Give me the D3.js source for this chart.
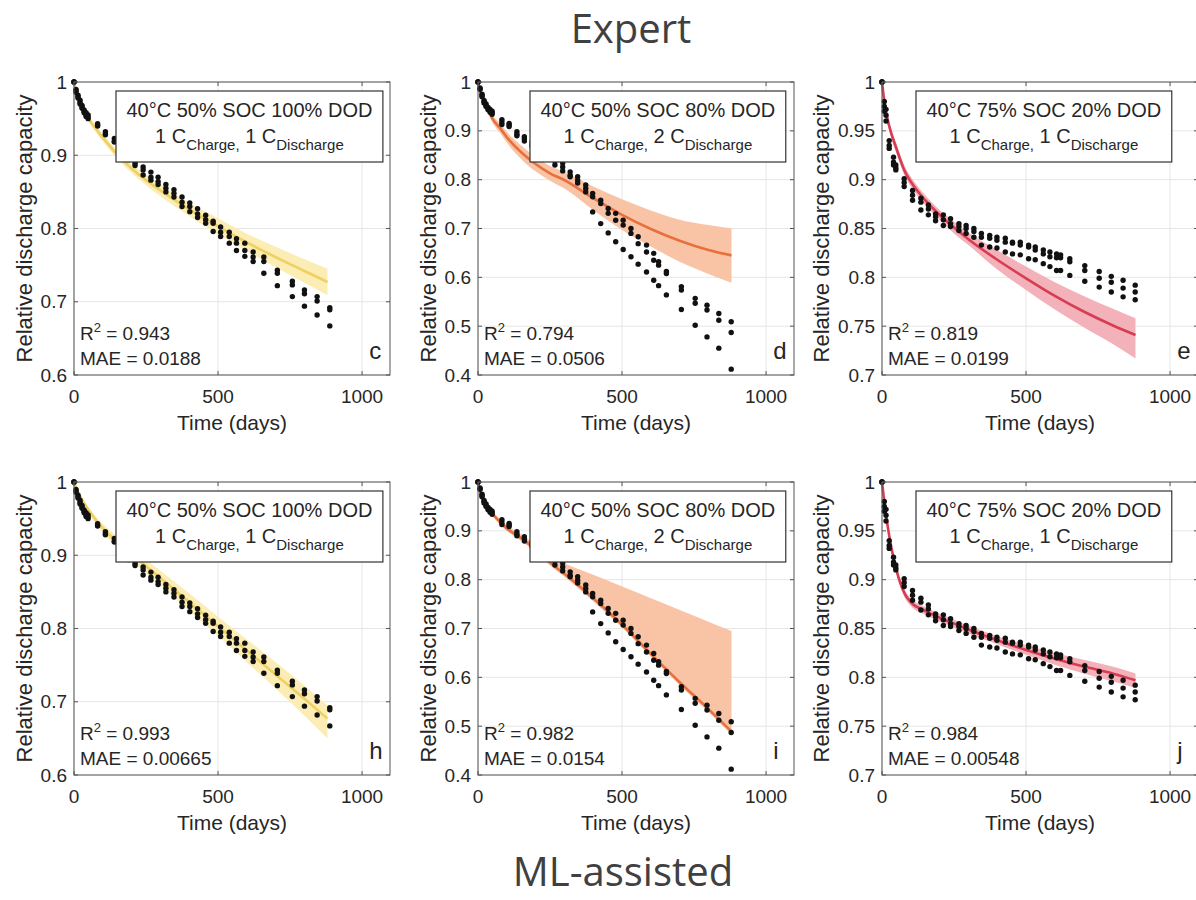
<!DOCTYPE html>
<html>
<head>
<meta charset="utf-8">
<script src="https://cdn.jsdelivr.net/npm/d3@7"></script>
<style>
  body { margin: 0; background: #fff; }
  svg { display: block; }
</style>
</head>
<body>
<div id="chart"></div>
<script>
// ---- measured cells (three cells per test condition) ----
const daysA = [0, 7, 14, 21, 28, 35, 42, 49, 82, 109, 140, 165, 190, 212, 240, 267, 292, 319, 347, 375, 402, 429, 457, 483, 509, 539, 564, 593, 622, 659, 706, 758, 800, 844, 888];
const cellA1 = [1, 0.990, 0.982, 0.975, 0.968, 0.962, 0.958, 0.955, 0.943, 0.932, 0.923, 0.912, 0.902, 0.892, 0.884, 0.877, 0.870, 0.860, 0.853, 0.843, 0.835, 0.827, 0.818, 0.810, 0.802, 0.795, 0.786, 0.780, 0.768, 0.761, 0.743, 0.728, 0.716, 0.707, 0.692];
const cellA2 = [1, 0.988, 0.980, 0.972, 0.966, 0.960, 0.955, 0.952, 0.941, 0.929, 0.919, 0.908, 0.898, 0.889, 0.880, 0.870, 0.864, 0.855, 0.848, 0.836, 0.830, 0.820, 0.812, 0.807, 0.795, 0.789, 0.780, 0.770, 0.761, 0.755, 0.739, 0.723, 0.711, 0.701, 0.689];
const cellA3 = [1, 0.986, 0.978, 0.970, 0.964, 0.958, 0.953, 0.950, 0.940, 0.928, 0.918, 0.905, 0.894, 0.886, 0.873, 0.866, 0.860, 0.850, 0.843, 0.830, 0.823, 0.815, 0.807, 0.796, 0.789, 0.780, 0.770, 0.762, 0.755, 0.739, 0.722, 0.707, 0.694, 0.682, 0.667];

const daysB = [0, 7, 14, 21, 28, 35, 42, 49, 83, 108, 135, 161, 188, 214, 240, 267, 294, 320, 346, 374, 398, 426, 452, 478, 504, 531, 556, 585, 610, 627, 654, 706, 754, 795, 836, 879];
const cellB1 = [1, 0.988, 0.975, 0.962, 0.955, 0.948, 0.944, 0.940, 0.923, 0.915, 0.898, 0.888, 0.877, 0.866, 0.855, 0.845, 0.834, 0.816, 0.806, 0.789, 0.772, 0.758, 0.741, 0.731, 0.717, 0.700, 0.683, 0.666, 0.649, 0.632, 0.612, 0.581, 0.557, 0.543, 0.526, 0.509];
const cellB2 = [1, 0.986, 0.972, 0.960, 0.952, 0.945, 0.941, 0.937, 0.918, 0.912, 0.893, 0.884, 0.872, 0.861, 0.849, 0.838, 0.826, 0.809, 0.799, 0.782, 0.765, 0.751, 0.731, 0.717, 0.707, 0.690, 0.669, 0.652, 0.635, 0.625, 0.608, 0.574, 0.547, 0.533, 0.512, 0.487];
const cellB3 = [1, 0.985, 0.970, 0.957, 0.950, 0.943, 0.938, 0.934, 0.913, 0.909, 0.890, 0.879, 0.868, 0.856, 0.843, 0.830, 0.818, 0.806, 0.793, 0.775, 0.734, 0.710, 0.691, 0.673, 0.657, 0.642, 0.627, 0.611, 0.594, 0.583, 0.564, 0.534, 0.502, 0.478, 0.455, 0.412];

const daysC = [0, 8, 14, 25, 40, 48, 77, 106, 135, 161, 186, 213, 238, 267, 292, 319, 345, 374, 399, 428, 453, 480, 509, 532, 560, 583, 606, 620, 652, 704, 754, 796, 837, 879];
const cellC1 = [1, 0.980, 0.972, 0.940, 0.923, 0.915, 0.901, 0.889, 0.881, 0.874, 0.865, 0.864, 0.860, 0.855, 0.853, 0.850, 0.845, 0.843, 0.841, 0.840, 0.836, 0.836, 0.833, 0.831, 0.828, 0.826, 0.824, 0.823, 0.819, 0.812, 0.806, 0.801, 0.797, 0.792];
const cellC2 = [1, 0.975, 0.966, 0.935, 0.918, 0.912, 0.897, 0.884, 0.877, 0.870, 0.862, 0.859, 0.855, 0.852, 0.850, 0.847, 0.841, 0.840, 0.838, 0.836, 0.835, 0.833, 0.831, 0.828, 0.824, 0.821, 0.820, 0.820, 0.816, 0.807, 0.799, 0.795, 0.789, 0.785];
const cellC3 = [1, 0.970, 0.960, 0.932, 0.915, 0.910, 0.893, 0.879, 0.869, 0.864, 0.858, 0.853, 0.852, 0.848, 0.845, 0.841, 0.833, 0.831, 0.830, 0.826, 0.824, 0.823, 0.819, 0.818, 0.814, 0.811, 0.807, 0.807, 0.802, 0.796, 0.790, 0.785, 0.780, 0.777];

// ---- model predictions (mean and band) ----
const fitDays = [0, 10, 25, 50, 80, 100, 150, 200, 250, 300, 400, 500, 600, 700, 800, 880];

const fitC = [1, 0.982, 0.968, 0.950, 0.934, 0.924, 0.901, 0.882, 0.866, 0.852, 0.826, 0.803, 0.781, 0.761, 0.742, 0.727];
const loC  = [1, 0.980, 0.965, 0.946, 0.929, 0.919, 0.895, 0.876, 0.859, 0.844, 0.817, 0.792, 0.769, 0.747, 0.726, 0.709];
const hiC  = [1, 0.984, 0.971, 0.954, 0.939, 0.929, 0.907, 0.888, 0.873, 0.860, 0.835, 0.814, 0.793, 0.775, 0.758, 0.745];

const fitD = [1, 0.975, 0.958, 0.925, 0.903, 0.887, 0.856, 0.832, 0.813, 0.799, 0.762, 0.728, 0.699, 0.675, 0.656, 0.645];
const loD  = [1, 0.972, 0.952, 0.917, 0.893, 0.876, 0.842, 0.817, 0.798, 0.782, 0.738, 0.697, 0.663, 0.632, 0.607, 0.589];
const hiD  = [1, 0.978, 0.964, 0.933, 0.913, 0.898, 0.870, 0.847, 0.828, 0.816, 0.786, 0.760, 0.737, 0.718, 0.707, 0.700];

const fitE = [1, 0.976, 0.955, 0.932, 0.908, 0.898, 0.879, 0.864, 0.851, 0.839, 0.818, 0.799, 0.781, 0.765, 0.751, 0.741];
const loE  = [1, 0.972, 0.950, 0.927, 0.903, 0.893, 0.874, 0.859, 0.845, 0.833, 0.808, 0.787, 0.767, 0.749, 0.732, 0.717];
const hiE  = [1, 0.980, 0.960, 0.937, 0.913, 0.903, 0.884, 0.869, 0.857, 0.846, 0.828, 0.811, 0.795, 0.781, 0.768, 0.758];

const fitH = [1, 0.990, 0.978, 0.962, 0.946, 0.937, 0.918, 0.901, 0.885, 0.869, 0.836, 0.803, 0.770, 0.737, 0.704, 0.677];
const loH  = [1, 0.988, 0.975, 0.958, 0.941, 0.931, 0.911, 0.893, 0.876, 0.859, 0.824, 0.790, 0.754, 0.718, 0.681, 0.650];
const hiH  = [1, 0.992, 0.981, 0.966, 0.951, 0.943, 0.925, 0.909, 0.894, 0.879, 0.848, 0.816, 0.785, 0.754, 0.722, 0.695];

const fitI = [1, 0.975, 0.955, 0.935, 0.916, 0.905, 0.885, 0.862, 0.835, 0.812, 0.762, 0.708, 0.648, 0.590, 0.535, 0.489];
const loI  = [1, 0.972, 0.951, 0.930, 0.911, 0.900, 0.879, 0.856, 0.829, 0.806, 0.756, 0.702, 0.642, 0.584, 0.529, 0.483];
const hiI  = [1, 0.978, 0.960, 0.940, 0.922, 0.912, 0.893, 0.872, 0.845, 0.833, 0.810, 0.786, 0.762, 0.738, 0.714, 0.695];

const fitJ = [1, 0.975, 0.945, 0.910, 0.885, 0.877, 0.868, 0.861, 0.855, 0.849, 0.838, 0.828, 0.819, 0.811, 0.804, 0.797];
const loJ  = [1, 0.972, 0.941, 0.906, 0.881, 0.873, 0.864, 0.857, 0.851, 0.845, 0.834, 0.823, 0.813, 0.804, 0.796, 0.789];
const hiJ  = [1, 0.978, 0.949, 0.914, 0.889, 0.881, 0.872, 0.865, 0.859, 0.853, 0.842, 0.833, 0.825, 0.818, 0.811, 0.804];

// ---- labels and ticks ----
const xTicks = [0, 500, 1000];
const yTicksA = [0.6, 0.7, 0.8, 0.9, 1];
const yTicksB = [0.4, 0.5, 0.6, 0.7, 0.8, 0.9, 1];
const yTicksC = [0.7, 0.75, 0.8, 0.85, 0.9, 0.95, 1];
const conditions = ["40°C 50% SOC 100% DOD", "40°C 50% SOC 80% DOD", "40°C 75% SOC 20% DOD"];
const dischargeRates = ["1", "2", "1"];
const panelLetters = ["c", "d", "e", "h", "i", "j"];
const r2Values = ["0.943", "0.794", "0.819", "0.993", "0.982", "0.984"];
const maeValues = ["0.0188", "0.0506", "0.0199", "0.00665", "0.0154", "0.00548"];

const W = 1196, H = 900;
const svg = d3.select("#chart").append("svg").attr("width", W).attr("height", H);

const textFont = "'Liberation Sans', Arial, Helvetica, sans-serif";
const ink = "#262626";

const colLeft = [74, 478, 882];
const boxOffset = [42, 52, 34];
const rowTop = [82, 482];
const pw = 316, ph = 293;

const datasets = [
  { days: daysA, cells: [cellA1, cellA2, cellA3], yDomain: [0.6, 1], yTicks: yTicksA },
  { days: daysB, cells: [cellB1, cellB2, cellB3], yDomain: [0.4, 1], yTicks: yTicksB },
  { days: daysC, cells: [cellC1, cellC2, cellC3], yDomain: [0.7, 1], yTicks: yTicksC }
];
const fits = [
  [fitC, loC, hiC], [fitD, loD, hiD], [fitE, loE, hiE],
  [fitH, loH, hiH], [fitI, loI, hiI], [fitJ, loJ, hiJ]
];
const palette = [
  { line: "#efd062", band: "#fbedb4" },
  { line: "#e8703c", band: "#f9c3a6" },
  { line: "#d73d52", band: "#f3b1b9" }
];

// titles
svg.append("text").attr("x", 631).attr("y", 43).attr("text-anchor", "middle")
  .style("font-family", "'Open Sans', 'Noto Sans', sans-serif").style("font-size", "40px")
  .style("fill", "#404040").text("Expert");
svg.append("text").attr("x", 623).attr("y", 886).attr("text-anchor", "middle")
  .style("font-family", "'Open Sans', 'Noto Sans', sans-serif").style("font-size", "40px")
  .style("fill", "#404040").text("ML-assisted");

panelLetters.forEach((letter, k) => {
  const row = Math.floor(k / 3), col = k % 3;
  const ds = datasets[col];
  const [fit, lo, hi] = fits[k];
  const colors = palette[col];

  const g = svg.append("g").attr("transform", `translate(${colLeft[col]},${rowTop[row]})`);
  const x = d3.scaleLinear().domain([0, 1097]).range([0, pw]);
  const y = d3.scaleLinear().domain(ds.yDomain).range([ph, 0]);

  // grid
  g.selectAll(".gx").data(xTicks).enter().append("line")
    .attr("x1", d => x(d)).attr("x2", d => x(d)).attr("y1", 0).attr("y2", ph)
    .style("stroke", "#e6e6e6").style("stroke-width", 1);
  g.selectAll(".gy").data(ds.yTicks).enter().append("line")
    .attr("x1", 0).attr("x2", pw).attr("y1", d => y(d)).attr("y2", d => y(d))
    .style("stroke", "#e6e6e6").style("stroke-width", 1);

  // band + mean line
  const pts = fitDays.map((t, i) => ({ t, m: fit[i], lo: lo[i], hi: hi[i] }));
  g.append("path").datum(pts)
    .attr("d", d3.area().x(d => x(d.t)).y0(d => y(d.lo)).y1(d => y(d.hi)).curve(d3.curveMonotoneX))
    .style("fill", colors.band).style("stroke", "none");
  g.append("path").datum(pts)
    .attr("d", d3.line().x(d => x(d.t)).y(d => y(d.m)).curve(d3.curveMonotoneX))
    .style("fill", "none").style("stroke", colors.line).style("stroke-width", 2.6);

  // measured cells
  ds.cells.forEach(cell => {
    g.selectAll(null).data(ds.days.map((t, i) => [t, cell[i]])).enter().append("circle")
      .attr("cx", d => x(d[0])).attr("cy", d => y(d[1])).attr("r", 2.7)
      .style("fill", "#111");
  });

  // condition box
  const lg = g.append("g");
  const t1 = lg.append("text").attr("y", 35).attr("text-anchor", "middle")
    .style("font-family", textFont).style("font-size", "20px").style("fill", ink)
    .text(conditions[col]);
  const t2 = lg.append("text").attr("y", 61).attr("text-anchor", "middle")
    .style("font-family", textFont).style("font-size", "20px").style("fill", ink);
  t2.append("tspan").text("1 C");
  t2.append("tspan").attr("dy", 7).style("font-size", "15px").text("Charge,");
  t2.append("tspan").attr("dy", -7).text(` ${dischargeRates[col]} C`);
  t2.append("tspan").attr("dy", 7).style("font-size", "15px").text("Discharge");
  const tw = Math.max(t1.node().getComputedTextLength(), t2.node().getComputedTextLength());
  const bw = tw + 21;
  const bx = boxOffset[col];
  lg.insert("rect", ":first-child")
    .attr("x", bx).attr("y", 9).attr("width", bw).attr("height", 71)
    .style("fill", "#fff").style("stroke", "#333").style("stroke-width", 1.2);
  t1.attr("x", bx + bw / 2);
  t2.attr("x", bx + bw / 2);

  // R2 and MAE
  const r2 = g.append("text").attr("x", 6).attr("y", ph - 35)
    .style("font-family", textFont).style("font-size", "19px").style("fill", ink);
  r2.append("tspan").text("R");
  r2.append("tspan").attr("dy", -8).style("font-size", "13px").text("2");
  r2.append("tspan").attr("dy", 8).text(` = ${r2Values[k]}`);
  g.append("text").attr("x", 6).attr("y", ph - 10)
    .style("font-family", textFont).style("font-size", "19px").style("fill", ink)
    .text(`MAE = ${maeValues[k]}`);

  g.append("text").attr("x", x(1025)).attr("y", ph - 16)
    .style("font-family", textFont).style("font-size", "24px").style("fill", ink)
    .text(letter);

  // frame + inward ticks
  g.append("rect").attr("width", pw).attr("height", ph)
    .style("fill", "none").style("stroke", "#555").style("stroke-width", 1);
  xTicks.forEach(t => {
    g.append("line").attr("x1", x(t)).attr("x2", x(t)).attr("y1", ph).attr("y2", ph - 4).style("stroke", "#555");
    g.append("line").attr("x1", x(t)).attr("x2", x(t)).attr("y1", 0).attr("y2", 4).style("stroke", "#555");
  });
  ds.yTicks.forEach(t => {
    g.append("line").attr("x1", 0).attr("x2", 4).attr("y1", y(t)).attr("y2", y(t)).style("stroke", "#555");
    g.append("line").attr("x1", pw).attr("x2", pw - 4).attr("y1", y(t)).attr("y2", y(t)).style("stroke", "#555");
  });

  // tick labels
  g.selectAll(".xl").data(xTicks).enter().append("text")
    .attr("x", d => x(d)).attr("y", ph + 28).attr("text-anchor", "middle")
    .style("font-family", textFont).style("font-size", "19px").style("fill", ink)
    .text(d => d);
  const yl = g.selectAll(".yl").data(ds.yTicks).enter().append("text")
    .attr("x", -7).attr("y", d => y(d)).attr("dy", "0.35em").attr("text-anchor", "end")
    .style("font-family", textFont).style("font-size", "19px").style("fill", ink)
    .text(d => String(+d.toFixed(2)));
  let minLeft = 0;
  yl.each(function () { minLeft = Math.min(minLeft, this.getBBox().x); });

  g.append("text").attr("x", pw / 2).attr("y", ph + 55).attr("text-anchor", "middle")
    .style("font-family", textFont).style("font-size", "21px").style("fill", ink)
    .text("Time (days)");
  g.append("text")
    .attr("transform", `translate(${minLeft - 9},${ph / 2}) rotate(-90)`)
    .attr("text-anchor", "middle")
    .style("font-family", textFont).style("font-size", "22px").style("fill", ink)
    .text("Relative discharge capacity");
});
</script>
</body>
</html>
